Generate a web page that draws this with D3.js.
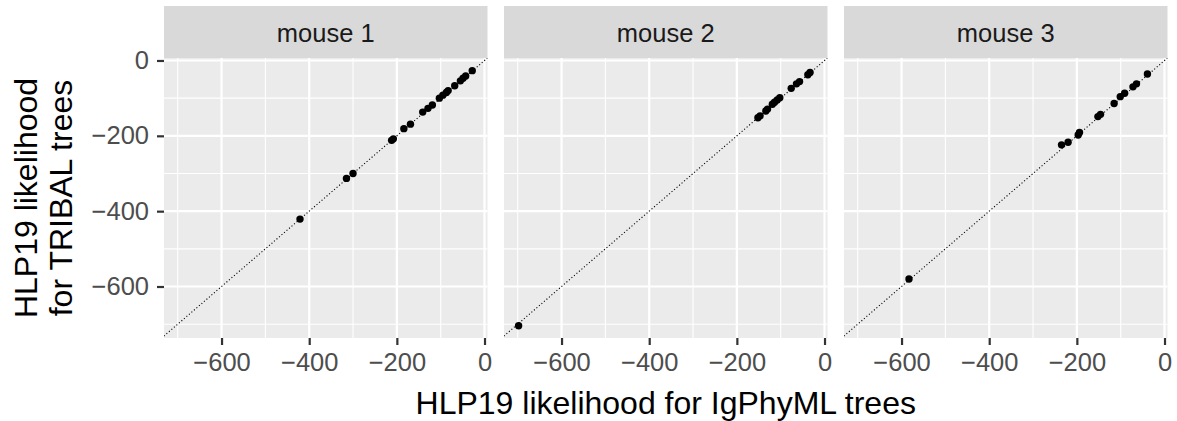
<!DOCTYPE html>
<html lang="en">
  <head>
    <meta charset="utf-8"/>
    <title>HLP19 likelihood</title>
    <script src="https://d3js.org/d3.v7.min.js" charset="utf-8"></script>
    <style>
      body { margin: 0; background: #fff; }
      text { font-family: "Liberation Sans", Arial, sans-serif; }
    </style>
  </head>
  <body>
    <div id="chart"></div>
    <script type="text/javascript">
     // [IgPhyML, TRIBAL] likelihood pairs
     let mouse1 = [[-421, -421], [-315, -313], [-300, -300], [-212, -212], [-208, -208],
                   [-184, -181], [-169, -169], [-141, -137], [-129, -127], [-119, -118],
                   [-103, -100], [-95, -92], [-87, -85], [-83, -80], [-68, -67],
                   [-55, -54], [-49, -47], [-43, -41], [-28, -27]];
     let mouse2 = [[-698, -704], [-152, -152], [-147, -147], [-134, -134], [-130, -129],
                   [-119, -116], [-114, -111], [-108, -105], [-102, -99], [-76, -74],
                   [-64, -62], [-57, -56], [-38, -38], [-33, -32]];
     let mouse3 = [[-583, -580], [-235, -224], [-220, -217], [-197, -198], [-194, -191],
                   [-152, -149], [-146, -143], [-115, -114], [-101, -96], [-91, -87],
                   [-72, -70], [-64, -62], [-39, -36]];

     let facets = ["mouse 1", "mouse 2", "mouse 3"],
         series = [mouse1, mouse2, mouse3];

     let majorTicks = [-600, -400, -200, 0],
         minorTicks = [-700, -500, -300, -100];

     let xTitle = "HLP19 likelihood for IgPhyML trees",
         yTitle = ["HLP19 likelihood", "for TRIBAL trees"];

     function Facets() {
         let svgWidth = 1177,
             svgHeight = 421;

         let panelLeft = [164, 504, 844],
             panelTop = 58,
             pw = 323.5,
             ph = 280,
             stripTop = 6;

         let svg = d3.select("#chart")
                     .append("svg")
                     .attr("width", svgWidth)
                     .attr("height", svgHeight);

         let xScale = d3.scaleLinear()
                        .domain([-731.3, 6.8])
                        .range([0, pw]);

         let yScale = d3.scaleLinear()
                        .domain([-736.7, 6.6])
                        .range([ph, 0]);

         let fmt = d => d3.format("")(d).replace("-", "\u2212");

         facets.forEach((name, i) => {
             let g = svg.append("g")
                        .attr("transform", `translate(${panelLeft[i]}, ${panelTop})`);

             svg.append("defs")
                .append("clipPath")
                .attr("id", `clip${i}`)
                .append("rect")
                .attr("width", pw)
                .attr("height", ph);

             // strip
             svg.append("rect")
                .attr("x", panelLeft[i])
                .attr("y", stripTop)
                .attr("width", pw)
                .attr("height", panelTop - stripTop)
                .attr("fill", "#D9D9D9");

             svg.append("text")
                .attr("x", panelLeft[i] + pw / 2)
                .attr("y", 41.5)
                .attr("text-anchor", "middle")
                .attr("font-size", "25.5px")
                .attr("fill", "#1A1A1A")
                .text(name);

             g.append("rect")
              .attr("width", pw)
              .attr("height", ph)
              .attr("fill", "#EBEBEB");

             // minor grid
             g.selectAll("line.xminor")
              .data(minorTicks)
              .join("line")
              .attr("x1", d => xScale(d)).attr("x2", d => xScale(d))
              .attr("y1", 0).attr("y2", ph)
              .attr("stroke", "#fff").attr("stroke-width", 1.1);

             g.selectAll("line.yminor")
              .data(minorTicks)
              .join("line")
              .attr("y1", d => yScale(d)).attr("y2", d => yScale(d))
              .attr("x1", 0).attr("x2", pw)
              .attr("stroke", "#fff").attr("stroke-width", 1.1);

             // major grid
             g.selectAll("line.xmajor")
              .data(majorTicks)
              .join("line")
              .attr("x1", d => xScale(d)).attr("x2", d => xScale(d))
              .attr("y1", 0).attr("y2", ph)
              .attr("stroke", "#fff").attr("stroke-width", 2.2);

             g.selectAll("line.ymajor")
              .data(majorTicks)
              .join("line")
              .attr("y1", d => yScale(d)).attr("y2", d => yScale(d))
              .attr("x1", 0).attr("x2", pw)
              .attr("stroke", "#fff").attr("stroke-width", 2.2);

             // y = x reference line
             g.append("line")
              .attr("clip-path", `url(#clip${i})`)
              .attr("x1", xScale(-800)).attr("y1", yScale(-800))
              .attr("x2", xScale(50)).attr("y2", yScale(50))
              .attr("stroke", "#000")
              .attr("stroke-width", 1.1)
              .attr("stroke-dasharray", "1.1,2.2");

             g.selectAll("circle")
              .data(series[i])
              .join("circle")
              .attr("cx", d => xScale(d[0]))
              .attr("cy", d => yScale(d[1]))
              .attr("r", 3.7)
              .attr("fill", "#000");

             // x axis
             let xAxis = d3.axisBottom(xScale)
                           .tickValues(majorTicks)
                           .tickFormat(fmt)
                           .tickSize(7)
                           .tickPadding(8);

             let ax = g.append("g")
                       .attr("transform", `translate(0, ${ph})`)
                       .call(xAxis);
             ax.select(".domain").remove();
             ax.selectAll(".tick line").attr("stroke", "#333").attr("stroke-width", 2.2);
             ax.selectAll(".tick text")
               .attr("fill", "#4D4D4D")
               .attr("font-size", "25.5px")
               .attr("font-family", "Liberation Sans, Arial, sans-serif");

             if (i === 0) {
                 let yAxis = d3.axisLeft(yScale)
                               .tickValues(majorTicks)
                               .tickFormat(fmt)
                               .tickSize(7)
                               .tickPadding(8);
                 let ay = g.append("g").call(yAxis);
                 ay.select(".domain").remove();
                 ay.selectAll(".tick line").attr("stroke", "#333").attr("stroke-width", 2.2);
                 ay.selectAll(".tick text")
                   .attr("fill", "#4D4D4D")
                   .attr("font-size", "25.5px")
                   .attr("font-family", "Liberation Sans, Arial, sans-serif");
             }
         });

         // axis titles
         svg.append("text")
            .attr("x", (panelLeft[0] + panelLeft[2] + pw) / 2)
            .attr("y", 413.5)
            .attr("text-anchor", "middle")
            .attr("font-size", "32px")
            .attr("fill", "#000")
            .text(xTitle);

         let cy = panelTop + ph / 2;
         yTitle.forEach((t, k) => {
             svg.append("text")
                .attr("transform", `translate(${37 + k * 35}, ${cy}) rotate(-90)`)
                .attr("text-anchor", "middle")
                .attr("font-size", "32px")
                .attr("fill", "#000")
                .text(t);
         });
     }

     Facets();
    </script>
  </body>
</html>
